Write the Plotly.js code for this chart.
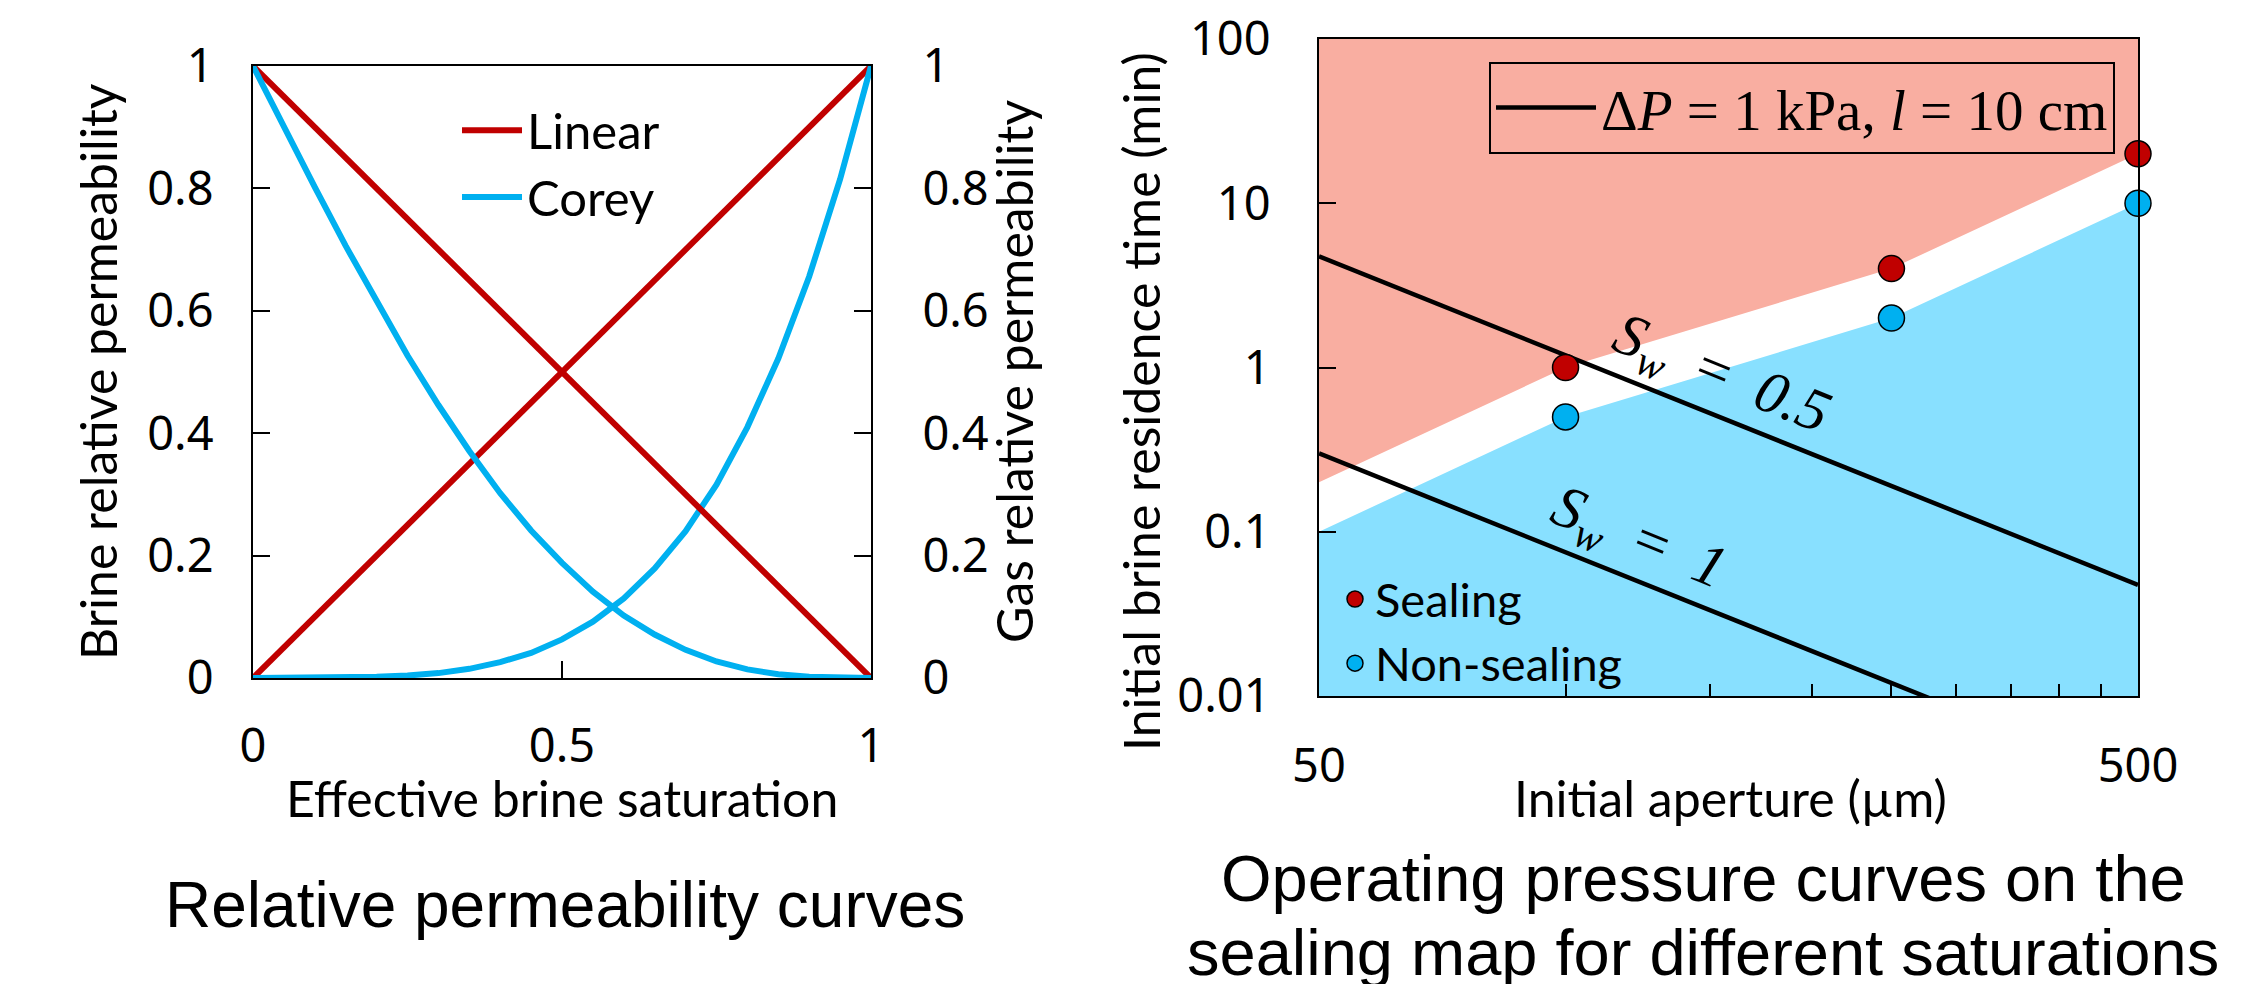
<!DOCTYPE html>
<html>
<head>
<meta charset="utf-8">
<script src="https://cdn.plot.ly/plotly-3.0.1.min.js"></script>
<style>
  html, body { margin: 0; padding: 0; background: #ffffff; }
  #chart { width: 2267px; height: 984px; }
</style>
</head>
<body>
<div id="chart"></div>
<script>
// ---------- Left panel: relative permeability curves ----------
const saturation = [0, 0.05, 0.1, 0.15, 0.2, 0.25, 0.3, 0.35, 0.4, 0.45, 0.5,
                    0.55, 0.6, 0.65, 0.7, 0.75, 0.8, 0.85, 0.9, 0.95, 1];
const coreyBrine = [0, 0, 0, 0.001, 0.002, 0.004, 0.008, 0.015, 0.026, 0.041, 0.063,
                    0.092, 0.13, 0.179, 0.24, 0.316, 0.41, 0.522, 0.656, 0.815, 1];
const coreyGas   = [1, 0.9, 0.802, 0.706, 0.614, 0.527, 0.446, 0.371, 0.302, 0.241, 0.188,
                    0.141, 0.102, 0.071, 0.046, 0.027, 0.014, 0.006, 0.002, 0, 0];
const linearSat   = [0, 1];
const linearBrine = [0, 1];
const linearGas   = [1, 0];
const leftXTicks = [0, 0.5, 1];
const leftYTicks = [0, 0.2, 0.4, 0.6, 0.8, 1];

// ---------- Right panel: sealing map ----------
const apertureUm     = [50, 100, 250, 500];
const sealingTime    = [0.2, 1, 4, 20];
const nonSealingTime = [0.1, 0.5, 2, 10];
const curveAperture  = [50, 500];
const sw05Time       = [4.75, 0.0475];
const sw1Time        = [0.3, 0.003];
const apertureRange  = [50, 500];
const timeRange      = [0.01, 100];
const apertureTicks  = [50, 100, 150, 200, 250, 300, 350, 400, 450, 500];
const apertureLabels = ['50', '', '', '', '', '', '', '', '', '500'];
const timeTicks      = [0.01, 0.1, 1, 10, 100];
const timeLabels     = ['0.01', '0.1', '1', '10', '100'];

const RED = '#C00000', CYAN = '#00B0F0';
const SANS = 'Lato, "Noto Sans", sans-serif';
const TICKSANS = '"Noto Sans", Lato, sans-serif';
const SERIF = '"Liberation Serif", "DejaVu Serif", serif';
const ARIAL = '"Liberation Sans", Arial, sans-serif';
const W = 2267, H = 984;
const px = v => v / W, py = v => 1 - v / H;

const traces = [
  // left panel
  {x: linearSat, y: linearBrine, xaxis: 'x', yaxis: 'y', mode: 'lines', name: 'Linear',
   legendgroup: 'lin', line: {color: RED, width: 6}},
  {x: linearSat, y: linearGas, xaxis: 'x', yaxis: 'y2', mode: 'lines', name: 'Linear',
   legendgroup: 'lin', showlegend: false, line: {color: RED, width: 6}},
  {x: saturation, y: coreyGas, xaxis: 'x', yaxis: 'y2', mode: 'lines', name: 'Corey',
   legendgroup: 'cor', line: {color: CYAN, width: 6}},
  {x: saturation, y: coreyBrine, xaxis: 'x', yaxis: 'y', mode: 'lines', name: 'Corey',
   legendgroup: 'cor', showlegend: false, line: {color: CYAN, width: 6}},

  // right panel fills
  {x: apertureUm.concat([apertureRange[1], apertureRange[0]]),
   y: sealingTime.concat([timeRange[1], timeRange[1]]),
   xaxis: 'x2', yaxis: 'y3', mode: 'lines', fill: 'toself', fillcolor: '#F9AEA1',
   line: {width: 0}, showlegend: false, hoverinfo: 'skip'},
  {x: apertureUm.concat([apertureRange[1], apertureRange[0]]),
   y: nonSealingTime.concat([timeRange[0], timeRange[0]]),
   xaxis: 'x2', yaxis: 'y3', mode: 'lines', fill: 'toself', fillcolor: '#88E0FF',
   line: {width: 0}, showlegend: false, hoverinfo: 'skip'},

  // operating pressure curves
  {x: curveAperture, y: sw05Time, xaxis: 'x2', yaxis: 'y3', mode: 'lines',
   name: 'Δ<i>P</i> = 1 kPa, <i>l</i> = 10 cm', legend: 'legend2',
   line: {color: '#000000', width: 4.5}},
  {x: curveAperture, y: sw1Time, xaxis: 'x2', yaxis: 'y3', mode: 'lines',
   name: 'Sw1', showlegend: false, line: {color: '#000000', width: 4.5}},

  // experiments
  {x: apertureUm, y: sealingTime, xaxis: 'x2', yaxis: 'y3', mode: 'markers',
   name: 'Sealing', legend: 'legend3', cliponaxis: false,
   marker: {color: RED, size: 26, line: {color: '#000000', width: 1.5}}},
  {x: apertureUm, y: nonSealingTime, xaxis: 'x2', yaxis: 'y3', mode: 'markers',
   name: 'Non-sealing', legend: 'legend3', cliponaxis: false,
   marker: {color: CYAN, size: 26, line: {color: '#000000', width: 1.5}}}
];

const tickFont = {family: TICKSANS, size: 47, color: '#000000'};
const titleFont = {family: SANS, size: 50, color: '#000000'};
const axCommon = {showgrid: false, zeroline: false, showline: true, linecolor: '#000000',
                  linewidth: 2, ticks: 'inside', tickcolor: '#000000', tickwidth: 2,
                  tickfont: tickFont};

function axisTitle(text, x, y, angle) {
  return {xref: 'paper', yref: 'paper', x: px(x), y: py(y), xanchor: 'center',
          yanchor: 'middle', showarrow: false, text: text, textangle: angle,
          font: titleFont};
}

const layout = {
  width: W, height: H,
  margin: {l: 0, r: 0, t: 0, b: 0},
  paper_bgcolor: '#ffffff', plot_bgcolor: 'rgba(0,0,0,0)',
  font: {family: SANS, color: '#000000'},
  showlegend: true,
  xaxis: Object.assign({}, axCommon, {
    domain: [px(253), px(871)], anchor: 'y', range: [0, 1], mirror: true,
    tickvals: leftXTicks, ticklen: 17, ticklabelstandoff: 26
  }),
  yaxis: Object.assign({}, axCommon, {
    domain: [py(678), py(66)], anchor: 'x', range: [0, 1],
    tickvals: leftYTicks, ticklen: 17, ticklabelstandoff: 28
  }),
  yaxis2: Object.assign({}, axCommon, {
    domain: [py(678), py(66)], anchor: 'x', overlaying: 'y', side: 'right', range: [0, 1],
    tickvals: leftYTicks, ticklen: 17, ticklabelstandoff: 40
  }),
  xaxis2: Object.assign({}, axCommon, {
    domain: [px(1319), px(2138)], anchor: 'y3', type: 'log', mirror: true,
    range: [Math.log10(apertureRange[0]), Math.log10(apertureRange[1])],
    tickvals: apertureTicks, ticktext: apertureLabels, ticklen: 12, ticklabelstandoff: 28
  }),
  yaxis3: Object.assign({}, axCommon, {
    domain: [py(696), py(39)], anchor: 'x2', type: 'log', mirror: true,
    range: [Math.log10(timeRange[0]), Math.log10(timeRange[1])],
    tickvals: timeTicks, ticktext: timeLabels, ticklen: 17, ticklabelstandoff: 37
  }),
  legend: {x: px(457), y: py(92), xanchor: 'left', yanchor: 'top', itemwidth: 60,
           bgcolor: 'rgba(0,0,0,0)', font: {family: SANS, size: 49, color: '#000000'},
           traceorder: 'normal'},
  legend2: {x: px(2115), y: py(62), xanchor: 'right', yanchor: 'top', itemwidth: 100,
            bgcolor: 'rgba(0,0,0,0)', bordercolor: '#000000', borderwidth: 2,
            font: {family: SERIF, size: 57, color: '#000000'}},
  legend3: {x: px(1335), y: py(562), xanchor: 'left', yanchor: 'top',
            bgcolor: 'rgba(0,0,0,0)', font: {family: SANS, size: 47, color: '#000000'},
            traceorder: 'normal'},
  annotations: [
    axisTitle('Brine relative permeability', 98, 372, -90),
    axisTitle('Effective brine saturation', 562, 798, 0),
    axisTitle('Gas relative permeability', 1014, 372, -90),
    axisTitle('Initial aperture (µm)', 1730, 798, 0),
    axisTitle('Initial brine residence time (min)', 1141, 402, -90),
    {xref: 'paper', yref: 'paper', x: px(1720), y: py(377), xanchor: 'center', yanchor: 'middle',
     showarrow: false, text: '<i>S<sub>w</sub></i>\u2002=\u2002<i>0.5</i>', textangle: 22,
     font: {family: SERIF, size: 60, color: '#000000'}},
    {xref: 'paper', yref: 'paper', x: px(1638), y: py(540), xanchor: 'center', yanchor: 'middle',
     showarrow: false, text: '<i>S<sub>w</sub></i>\u2002=\u2002<i>1</i>', textangle: 22,
     font: {family: SERIF, size: 60, color: '#000000'}},
    {xref: 'paper', yref: 'paper', x: px(565), y: py(905), xanchor: 'center', yanchor: 'middle',
     showarrow: false, text: 'Relative permeability curves',
     font: {family: ARIAL, size: 64, color: '#000000'}},
    {xref: 'paper', yref: 'paper', x: px(1703), y: py(878), xanchor: 'center', yanchor: 'middle',
     showarrow: false, text: 'Operating pressure curves on the',
     font: {family: ARIAL, size: 65, color: '#000000'}},
    {xref: 'paper', yref: 'paper', x: px(1703), y: py(952), xanchor: 'center', yanchor: 'middle',
     showarrow: false, text: 'sealing map for different saturations',
     font: {family: ARIAL, size: 65, color: '#000000'}}
  ]
};

Plotly.newPlot('chart', traces, layout, {displayModeBar: false, staticPlot: true});
</script>
</body>
</html>
